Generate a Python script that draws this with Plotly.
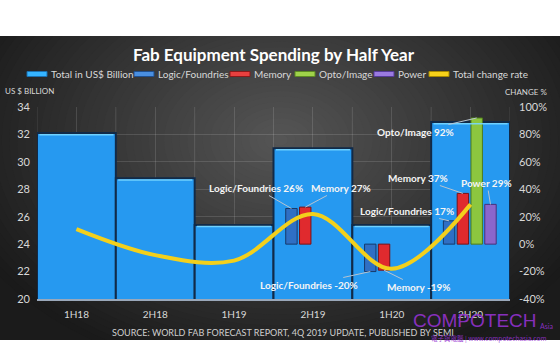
import plotly.graph_objects as go

# ---- data -------------------------------------------------------------
periods = ["1H18", "2H18", "1H19", "2H19", "1H20", "2H20"]
total_busd = [32.1, 28.8, 25.4, 31.0, 25.4, 32.9]          # US$ billion
total_change_pct = [11, -8, -12, 22, -18, 29]               # half-over-half %
logic_pct = [None, None, None, 26, -20, 17]
memory_pct = [None, None, None, 27, -19, 37]
opto_pct = [None, None, None, None, None, 92]
power_pct = [None, None, None, None, None, 29]

left_ticks = [20, 22, 24, 26, 28, 30, 32, 34]
right_ticks = [-40, -20, 0, 20, 40, 60, 80, 100]

# ---- figure geometry (pixels) ----------------------------------------
W, H = 560, 350
ML, MR, MT, MB = 37, 50, 107, 51
PW, PH = W - ML - MR, H - MT - MB
CAT_PX = PW / len(periods)


def px(x):
    return (x - ML) / PW


def py(y):
    return (H - MB - y) / PH


FONT = "Lato, 'Open Sans', sans-serif"
TXT = "#d8d8d8"

# sub-series: name, values, fill, outline, left offset within category
segments = [
    ("Logic/Foundries", logic_pct, "#2f6fc4", "#163a6b", -0.345),
    ("Memory", memory_pct, "#e02a2e", "#7a1115", -0.17),
    ("Opto/Image", opto_pct, "#8cc63f", "#4d7a1c", 0.005),
    ("Power", power_pct, "#8b66cc", "#47307a", 0.18),
]
SEG_W = 0.145

fig = go.Figure()

fig.add_trace(go.Bar(
    x=periods, y=total_busd, name="Total in US$ Billion", width=1.0,
    marker=dict(color="#2699f0", line=dict(color="#112a48", width=2)),
    yaxis="y", showlegend=False,
))

for name, vals, fill, edge, off in segments:
    fig.add_trace(go.Bar(
        x=periods, y=vals, name=name, width=SEG_W, offset=off,
        marker=dict(color=fill, line=dict(color=edge, width=1)),
        yaxis="y2", showlegend=False,
    ))

fig.add_trace(go.Scatter(
    x=periods, y=total_change_pct, name="Total change rate", mode="lines",
    line=dict(color="#f3d01c", width=4, shape="spline", smoothing=1.0),
    yaxis="y2", showlegend=False,
))

# ---- background: dark radial gradient inside white bands --------------
shapes = []
TOP_BAND, BOT_BAND = 36, 340
shapes.append(dict(type="rect", xref="paper", yref="paper", layer="below",
                   x0=px(0), x1=px(W), y0=py(BOT_BAND), y1=py(TOP_BAND),
                   fillcolor="#1b1b1b", line=dict(width=0)))
CX, CY, RX, RY = 280, 140, 340, 240
N = 44
for i in range(N, 0, -1):
    d = i / N
    g = int(round(86 - 60 * d))
    shapes.append(dict(type="circle", xref="paper", yref="paper", layer="below",
                       x0=px(CX - RX * d), x1=px(CX + RX * d),
                       y0=py(CY + RY * d), y1=py(CY - RY * d),
                       fillcolor=f"rgb({g},{g},{g})", line=dict(width=0)))
for y0, y1 in [(0, TOP_BAND), (BOT_BAND, H)]:
    shapes.append(dict(type="rect", xref="paper", yref="paper", layer="below",
                       x0=px(-5), x1=px(W + 5), y0=py(y1), y1=py(y0),
                       fillcolor="white", line=dict(width=0)))

# vertical grid lines on category boundaries
for k in range(len(periods) + 1):
    shapes.append(dict(type="line", xref="x", yref="paper", layer="below",
                       x0=k - 0.5, x1=k - 0.5, y0=0, y1=1,
                       line=dict(color="rgba(255,255,255,0.13)", width=1)))

# light top edge on the total bars
for ci, v in enumerate(total_busd):
    shapes.append(dict(type="line", xref="x", yref="y", layer="above",
                       x0=ci - 0.47, x1=ci + 0.47, y0=v - 0.12, y1=v - 0.12,
                       line=dict(color="rgba(120,215,255,0.9)", width=1.5)))

# ---- legend drawn as swatches + labels --------------------------------
legend_items = [
    ("Total in US$ Billion", "#35b4ff", "#1a6fb0", 27),
    ("Logic/Foundries", "#4a8fe0", "#1f4f8f", 134),
    ("Memory", "#e8403f", "#8a1a1a", 230),
    ("Opto/Image", "#9fd24a", "#5c8a22", 295),
    ("Power", "#9a7ae0", "#553a99", 374),
    ("Total change rate", "#f7d21a", "#a88a00", 429),
]
LEG_Y = 74
annotations = []
for label, fill, edge, x0 in legend_items:
    shapes.append(dict(type="rect", xref="paper", yref="paper", layer="above",
                       x0=px(x0), x1=px(x0 + 20), y0=py(LEG_Y + 2.5), y1=py(LEG_Y - 2.5),
                       fillcolor=fill, line=dict(color=edge, width=1)))
    annotations.append(dict(text=label, xref="paper", yref="paper",
                            x=px(x0 + 22), y=py(LEG_Y), xanchor="left", yanchor="middle",
                            showarrow=False, font=dict(family=FONT, size=10, color=TXT)))

# ---- value call-outs on the segment bars -------------------------------
# (series index, period, label centre in pixels)
callouts = [
    (0, "2H19", 256, 188),
    (1, "2H19", 341, 188),
    (2, "2H20", 416, 132),
    (1, "2H20", 418, 178),
    (3, "2H20", 487, 183),
    (0, "2H20", 407, 211),
    (0, "1H20", 309, 285),
    (1, "1H20", 418, 287),
]
y2_lo, y2_hi = right_ticks[0], right_ticks[-1]
for si, period, lx, ly in callouts:
    name, vals, _, _, off = segments[si]
    ci = periods.index(period)
    v = vals[ci]
    bx = ML + (ci + 0.5) * CAT_PX + (off + SEG_W / 2) * CAT_PX
    by = (H - MB) - (v - y2_lo) / (y2_hi - y2_lo) * PH
    annotations.append(dict(
        text=f"<b>{name} {v}%</b>", x=period, y=v, xref="x", yref="y2",
        xshift=(off + SEG_W / 2) * CAT_PX,
        showarrow=True, arrowhead=0, arrowwidth=1, arrowcolor="#b8c4d0",
        ax=lx - bx, ay=ly - by, standoff=0,
        font=dict(family=FONT, size=10, color="#f4f4f4"),
    ))

# axis captions, source line, publisher mark
MARK = "rgba(150,50,210,0.9)"
annotations += [
    dict(text="US $ BILLION", xref="paper", yref="paper", x=px(3), y=py(91),
         xanchor="left", yanchor="middle", showarrow=False,
         font=dict(family=FONT, size=8, color=TXT)),
    dict(text="CHANGE %", xref="paper", yref="paper", x=px(549), y=py(92),
         xanchor="right", yanchor="middle", showarrow=False,
         font=dict(family=FONT, size=8, color=TXT)),
    dict(text="SOURCE: WORLD FAB FORECAST REPORT, 4Q 2019 UPDATE, PUBLISHED BY SEMI",
         xref="paper", yref="paper", x=px(283), y=py(332), xanchor="center",
         yanchor="middle", showarrow=False, font=dict(family=FONT, size=9, color="#cfcfcf")),
    dict(text="COMPOTECH", xref="paper", yref="paper", x=px(475), y=py(320),
         xanchor="center", yanchor="middle", showarrow=False,
         font=dict(family="'Liberation Sans', sans-serif", size=19, color=MARK)),
    dict(text="Asia", xref="paper", yref="paper", x=px(546), y=py(326),
         xanchor="center", yanchor="middle", showarrow=False,
         font=dict(family=FONT, size=7, color=MARK)),
    dict(text="電子與電腦 | www.compotechasia.com", xref="paper", yref="paper",
         x=px(488), y=py(338), xanchor="center", yanchor="middle", showarrow=False,
         font=dict(family="'Noto Sans CJK TC', sans-serif", size=6.5, color=MARK)),
]

fig.update_layout(
    width=W, height=H,
    margin=dict(l=ML, r=MR, t=MT, b=MB, pad=0),
    paper_bgcolor="white", plot_bgcolor="rgba(0,0,0,0)",
    barmode="overlay", showlegend=False,
    title=dict(text="<b>Fab Equipment Spending by Half Year</b>",
               x=0.5, xref="paper", xanchor="center",
               y=1 - 55 / H, yref="container", yanchor="middle",
               font=dict(family=FONT, size=17, color="white")),
    xaxis=dict(type="category", categoryorder="array", categoryarray=periods,
               range=[-0.5, len(periods) - 0.5], showgrid=True,
               gridcolor="rgba(255,255,255,0.13)", gridwidth=1,
               showline=True, linecolor="#9aa8ba", linewidth=1.5,
               ticks="", ticklabelstandoff=5,
               tickfont=dict(family=FONT, size=10, color=TXT),
               zeroline=False, fixedrange=True),
    yaxis=dict(range=[left_ticks[0], left_ticks[-1]], tickvals=left_ticks,
               showgrid=True, gridcolor="rgba(255,255,255,0.13)", gridwidth=1,
               zeroline=False, ticks="", ticklabelstandoff=6,
               tickfont=dict(family=FONT, size=11, color=TXT)),
    yaxis2=dict(range=[y2_lo, y2_hi], tickvals=right_ticks,
                ticktext=[f"{t}%" for t in right_ticks],
                overlaying="y", side="right", showgrid=False, zeroline=False,
                ticks="", ticklabelstandoff=8,
                tickfont=dict(family=FONT, size=11, color=TXT)),
    shapes=shapes, annotations=annotations,
)

fig.write_html("out.html")
